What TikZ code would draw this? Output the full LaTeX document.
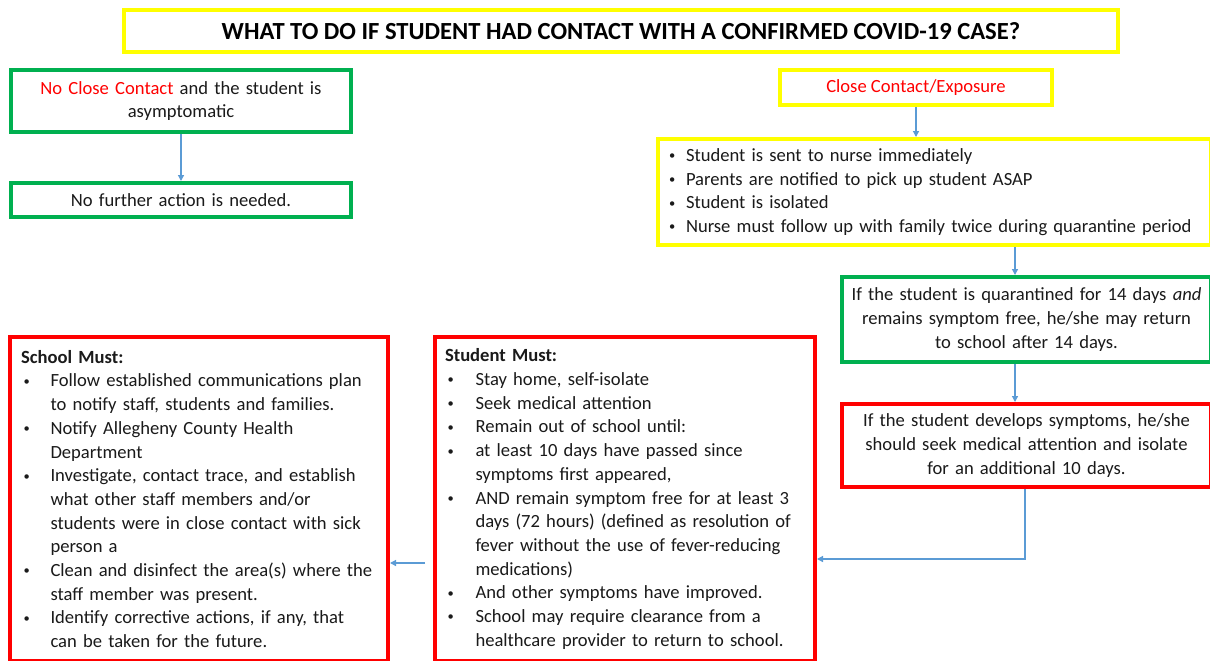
\documentclass[tikz,border=0pt]{standalone}
\usepackage{fontspec}
\setmainfont{Carlito}
\usetikzlibrary{arrows.meta}
\definecolor{ylw}{HTML}{FFFF00}
\definecolor{grn}{HTML}{00B050}
\definecolor{rd}{HTML}{FF0000}
\definecolor{arrowblue}{HTML}{5B9BD5}
\definecolor{txt}{HTML}{1A1A1A}
\newcommand{\smallbul}{\raisebox{1.6pt}{\fontsize{12.5}{12.5}\selectfont\textbullet}}
\newcommand{\bul}[2]{\par\noindent\hangindent=#1\hangafter=1\makebox[#1][l]{\hspace*{2.5pt}\smallbul}#2}
\tikzset{
  box/.style={draw, line width=4pt, fill=white, anchor=north west, inner sep=0pt,
    text=txt, font=\fontsize{18.6}{23.7}\selectfont, align=center},
  ybox/.style={box, draw=ylw},
  gbox/.style={box, draw=grn},
  rbox/.style={box, draw=rd},
  arr/.style={draw=arrowblue, line width=1.3pt, -{Triangle[length=6pt,width=6pt]}}
}
\begin{document}
\begin{tikzpicture}[x=1pt,y=-1pt]
\useasboundingbox[fill=white] (0,0) rectangle (1210,661);
% title
\node[ybox, minimum width=994pt, minimum height=42pt, font=\fontsize{24.6}{28}\selectfont\bfseries, text=black] (title) at (122,8)
  {WHAT TO DO IF STUDENT HAD CONTACT WITH A CONFIRMED COVID-19 CASE?};
% left branch
\node[gbox, minimum width=340pt, minimum height=62pt, text width=335pt] (nc) at (9,68)
  {\textcolor{rd}{No Close Contact} and the student is\\asymptomatic};
\node[gbox, minimum width=340pt, minimum height=34pt, text width=335pt] (nf) at (9,181)
  {No further action is needed.};
% right branch
\node[ybox, minimum width=272pt, minimum height=35pt, text=rd] (cc) at (778,68)
  {Close Contact/Exposure};
\node[ybox, minimum width=553pt, minimum height=106pt, text width=553pt, align=left] (yl) at (656,137)
  {\hspace*{8.5pt}\begin{minipage}{535pt}\raggedright
   \bul{19.5pt}{Student is sent to nurse immediately}
   \bul{19.5pt}{Parents are notified to pick up student ASAP}
   \bul{19.5pt}{Student is isolated}
   \bul{19.5pt}{Nurse must follow up with family twice during quarantine period}
   \end{minipage}};
\node[gbox, minimum width=369pt, minimum height=85pt, text width=365pt] (qb) at (840,275)
  {If the student is quarantined for 14 days \textit{and}\\remains symptom free, he/she may return\\to school after 14 days.};
\node[rbox, minimum width=369pt, minimum height=83pt, text width=365pt] (sy) at (840,402)
  {If the student develops symptoms, he/she\\should seek medical attention and isolate\\for an additional 10 days.};
% bottom boxes
\node[rbox, minimum width=380pt, minimum height=324pt, text width=380pt, align=left] (st) at (433,335)
  {\hspace*{10pt}\begin{minipage}{365pt}\raggedright
   \textbf{Student Must:}
   \bul{30.5pt}{Stay home, self-isolate}
   \bul{30.5pt}{Seek medical attention}
   \bul{30.5pt}{Remain out of school until:}
   \bul{30.5pt}{at least 10 days have passed since\newline symptoms first appeared,}
   \bul{30.5pt}{AND remain symptom free for at least 3\newline days (72 hours) (defined as resolution of\newline fever without the use of fever-reducing\newline medications)}
   \bul{30.5pt}{And other symptoms have improved.}
   \bul{30.5pt}{School may require clearance from a\newline healthcare provider to return to school.}
   \end{minipage}};
\node[rbox, minimum width=378pt, minimum height=324pt, text width=378pt, align=left] (sc) at (8,335)
  {\hspace*{11pt}\begin{minipage}{364pt}\raggedright
   \textbf{School Must:}
   \bul{29.5pt}{Follow established communications plan\newline to notify staff, students and families.}
   \bul{29.5pt}{Notify Allegheny County Health\newline Department}
   \bul{29.5pt}{Investigate, contact trace, and establish\newline what other staff members and/or\newline students were in close contact with sick\newline person a}
   \bul{29.5pt}{Clean and disinfect the area(s) where the\newline staff member was present.}
   \bul{29.5pt}{Identify corrective actions, if any, that\newline can be taken for the future.}
   \end{minipage}};
% connectors
\coordinate (ax) at (1015,0);
\coordinate (bend) at (1025,559);
\coordinate (sl) at (425,563);
\draw[arr] (nc.south) -- (nf.north);
\draw[arr] (cc.south) -- (cc.south |- yl.north);
\draw[arr] (yl.south -| ax) -- (qb.north -| ax);
\draw[arr] (qb.south -| ax) -- (sy.north -| ax);
\draw[arr] (sy.south -| bend) -- (bend) -- (st.east |- bend);
\draw[arr] (sl) -- (sc.east |- sl);
\end{tikzpicture}
\end{document}
